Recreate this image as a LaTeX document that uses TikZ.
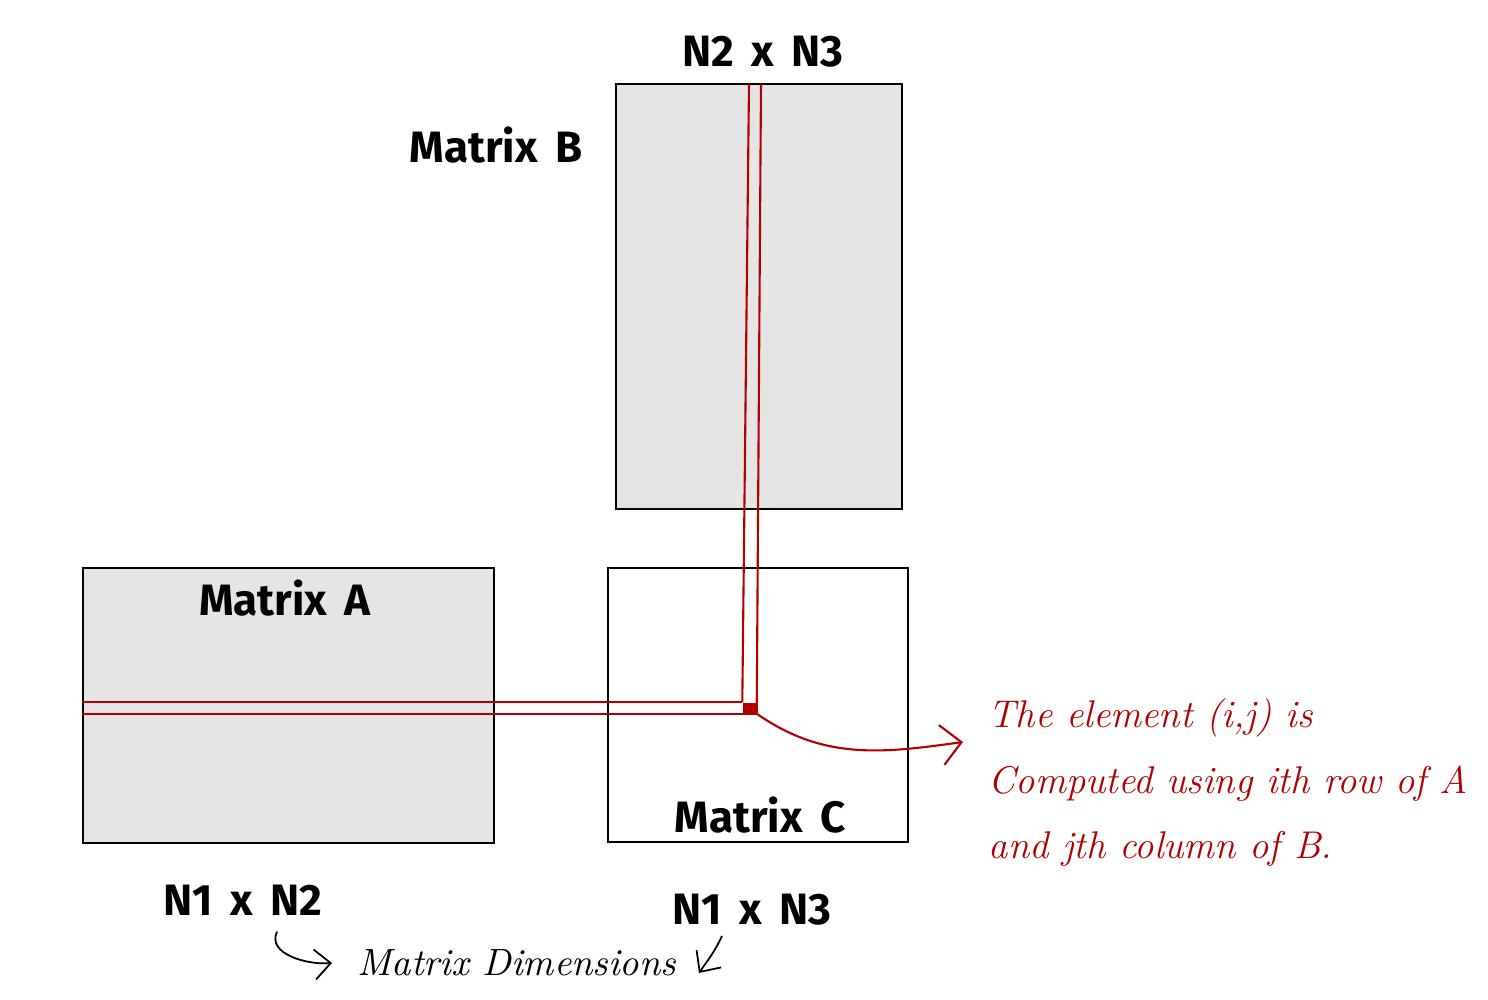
\documentclass[tikz,border=0pt]{standalone}
\usepackage{fontspec}
\usetikzlibrary{arrows.meta,positioning,calc}
\newfontfamily\labelfont{Fira Sans}[WordSpace=1.7]
\definecolor{matgray}{RGB}{229,229,229}
\definecolor{inkred}{RGB}{176,0,0}

\begin{document}
\begin{tikzpicture}[
  matbox/.style={draw,line width=0.6pt,inner sep=0pt},
  bold/.style={font=\labelfont\bfseries\fontsize{12.5}{14}\selectfont},
  hand/.style={font=\itshape\fontsize{11}{18.6}\selectfont,inner sep=0pt},
  redline/.style={inkred,line width=0.6pt},
  barb/.style={-{Straight Barb[length=2mm,width=4mm]}}]
\useasboundingbox (0,0) rectangle (14.88,10);
% the three matrices
\node[matbox,fill=matgray,minimum width=2.86cm,minimum height=4.25cm] (B) at (7.59,7.035) {};
\node[matbox,fill=matgray,minimum width=4.11cm,minimum height=2.75cm] (A) at (2.885,2.945) {};
\node[matbox,fill=white,minimum width=3.00cm,minimum height=2.74cm] (C) at (7.58,2.95) {};
\node[bold] (nameB) at (4.96,8.55) {Matrix B};
\node[bold] (nameA) at (2.85,4.02) {Matrix A};
\node[bold] (nameC) at (7.60,1.85) {Matrix C};
\node[bold] (dimB) at (7.63,9.48) {N2 x N3};
\node[bold] (dimA) at (2.43,1.00) {N1 x N2};
\node[bold] (dimC) at (7.52,0.90) {N1 x N3};
% row i of A and column j of B
\node[fill=inkred,inner sep=0pt,minimum width=0.13cm,minimum height=0.10cm] (elem) at (7.495,2.92) {};
\coordinate (colL) at (7.49,9.16);
\coordinate (colR) at (7.61,9.16);
\draw[redline] (A.west |- elem.north) -- (elem.north west);
\draw[redline] (A.west |- elem.south) -- (elem.south east);
\draw[redline] (colL) -- (elem.north west);
\draw[redline] (colR) -- (elem.south east);
% notes
\node[hand,text=inkred,anchor=north west,align=left] (note) at (9.88,3.02)
  {The element (i,j) is\\Computed using ith row of A\\and jth column of B.};
\draw[redline,barb] (elem.south east) to[out=-35,in=188] ([shift={(-0.25,-0.44)}]note.north west);
\node[hand,font=\itshape\fontsize{10.8}{13}\selectfont] (dims) at (5.17,0.37) {Matrix Dimensions};
\draw[line width=0.5pt,-{Straight Barb[length=1.6mm,width=3mm]}] ([xshift=0.34cm,yshift=-0.04cm]dimA.south) to[out=-115,in=185] ([xshift=-0.25cm]dims.west);
\draw[line width=0.5pt,-{Straight Barb[length=1.6mm,width=3mm]}] ([xshift=-0.3cm,yshift=0.02cm]dimC.south) to[out=-115,in=55] ([xshift=0.22cm,yshift=-0.1cm]dims.east);
\end{tikzpicture}
\end{document}
